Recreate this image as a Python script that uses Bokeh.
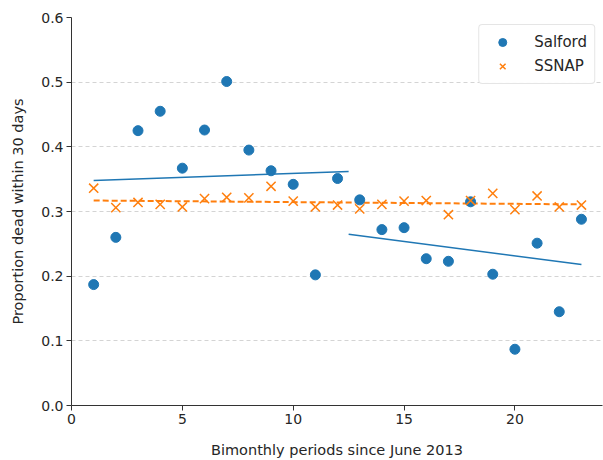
from bokeh.plotting import figure
from bokeh.models import FixedTicker, NumeralTickFormatter, Range1d, Legend, LegendItem
from bokeh.embed import file_html
from bokeh.resources import INLINE

periods = list(range(1, 24))
salford = [0.187, 0.260, 0.425, 0.455, 0.367, 0.426, 0.501, 0.395, 0.363, 0.342,
           0.202, 0.351, 0.318, 0.272, 0.275, 0.227, 0.223, 0.315, 0.203, 0.087,
           0.251, 0.145, 0.288]
ssnap = [0.336, 0.306, 0.314, 0.311, 0.307, 0.320, 0.322, 0.321, 0.339, 0.316,
         0.307, 0.310, 0.304, 0.311, 0.316, 0.317, 0.295, 0.317, 0.328, 0.303,
         0.324, 0.307, 0.310]
trend1_x = [1, 12.5]
trend1_y = [0.348, 0.362]
trend2_x = [12.5, 23]
trend2_y = [0.265, 0.218]
ssnap_trend_x = [1, 23]
ssnap_trend_y = [0.317, 0.311]
y_ticks = [0.0, 0.1, 0.2, 0.3, 0.4, 0.5, 0.6]
x_ticks = [0, 5, 10, 15, 20]

BLUE = "#1f77b4"
ORANGE = "#ff7f0e"
FONT = "DejaVu Sans"

p = figure(width=603, height=460, output_backend="svg", toolbar_location=None,
           x_range=Range1d(0, 23.95), y_range=Range1d(0, 0.6),
           min_border_left=71, min_border_top=17, min_border_bottom=55, min_border_right=1)
p.outline_line_color = None
p.xgrid.grid_line_color = None
p.ygrid.grid_line_color = "#d4d4d4"
p.ygrid.grid_line_dash = "4 3"
p.ygrid.grid_line_width = 1

for ax in (p.xaxis[0], p.yaxis[0]):
    ax.axis_line_color = "#333333"
    ax.major_tick_line_color = "#333333"
    ax.minor_tick_line_color = None
    ax.major_tick_in = 0
    ax.major_tick_out = 5
    ax.major_label_standoff = 3
    ax.major_label_text_font = FONT
    ax.major_label_text_font_size = "14px"
    ax.major_label_text_color = "#262626"
    ax.axis_label_text_font = FONT
    ax.axis_label_text_font_size = "14.5px"
    ax.axis_label_text_font_style = "normal"
    ax.axis_label_text_color = "#262626"

p.xaxis.ticker = FixedTicker(ticks=x_ticks)
p.yaxis.ticker = FixedTicker(ticks=y_ticks)
p.yaxis.formatter = NumeralTickFormatter(format="0.0")
p.xaxis.axis_label = "Bimonthly periods since June 2013"
p.yaxis.axis_label = "Proportion dead within 30 days"
p.xaxis.axis_label_standoff = 15
p.yaxis.axis_label_standoff = 12

p.line(trend1_x, trend1_y, line_color=BLUE, line_width=1.5)
p.line(trend2_x, trend2_y, line_color=BLUE, line_width=1.5)
p.line(ssnap_trend_x, ssnap_trend_y, line_color=ORANGE, line_width=2, line_dash="6 3")

r1 = p.scatter(periods, salford, marker="circle", size=10, fill_color=BLUE, line_color=BLUE)
r2 = p.scatter(periods, ssnap, marker="x", size=13, line_color=ORANGE, line_width=1.5)

legend = Legend(items=[LegendItem(label="Salford", renderers=[r1]),
                       LegendItem(label="SSNAP", renderers=[r2])],
                location="top_right")
legend.label_text_font = FONT
legend.label_text_font_size = "15px"
legend.label_text_color = "#262626"
legend.border_line_color = "#cccccc"
legend.border_radius = 4
legend.padding = 7
legend.spacing = 4
legend.glyph_width = 32
legend.glyph_height = 20
legend.label_standoff = 16
legend.margin = 7
p.add_layout(legend)

open("out.html", "w").write(file_html(p, INLINE))
